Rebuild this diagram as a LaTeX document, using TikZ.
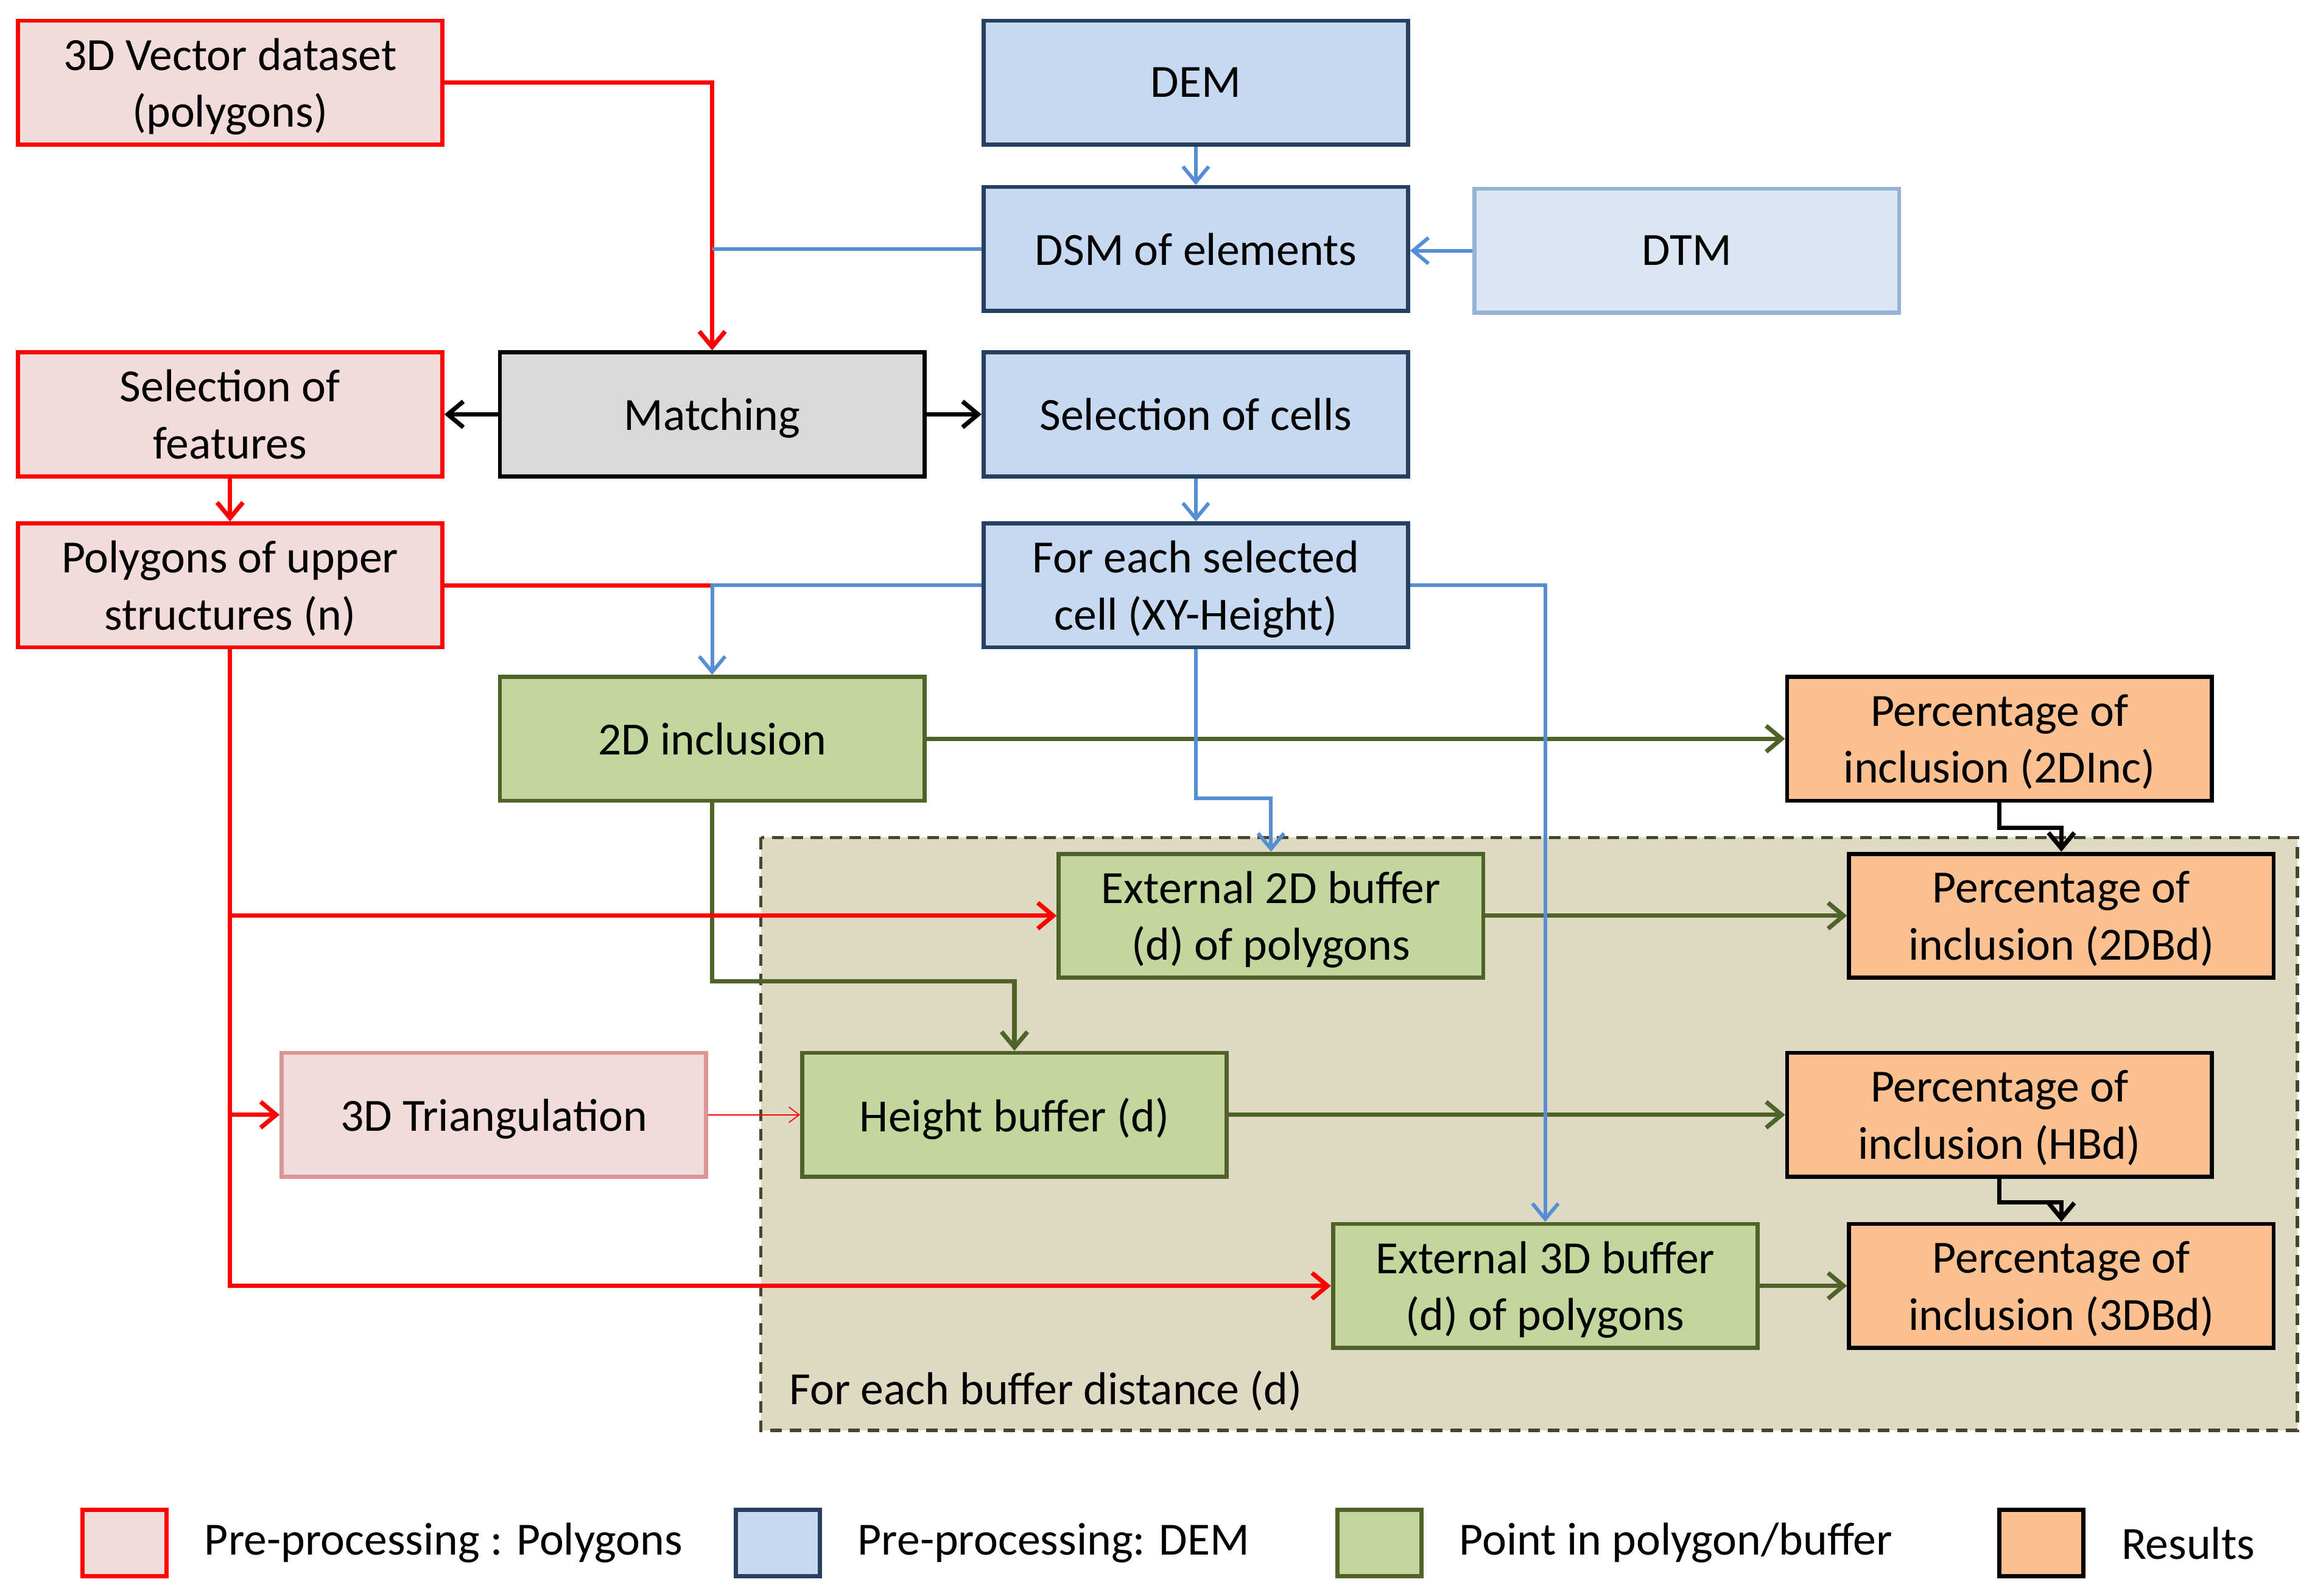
\documentclass[tikz,border=0pt]{standalone}
\usepackage{fontspec}
\setmainfont{Carlito}
\usepackage{tikz}
\usetikzlibrary{arrows.meta}
\usetikzlibrary{positioning}
\definecolor{polyred}{HTML}{FF0000}
\definecolor{polyfill}{HTML}{F2DCDB}
\definecolor{trifill}{HTML}{F2DCDB}
\definecolor{triline}{HTML}{D99694}
\definecolor{demline}{HTML}{254061}
\definecolor{demfill}{HTML}{C6D9F1}
\definecolor{dtmline}{HTML}{95B3D7}
\definecolor{dtmfill}{HTML}{DCE6F2}
\definecolor{demarrow}{HTML}{558ED5}
\definecolor{pipline}{HTML}{4F6228}
\definecolor{pipfill}{HTML}{C3D69B}
\definecolor{resfill}{HTML}{FAC090}
\definecolor{matchfill}{HTML}{D9D9D9}
\definecolor{loopfill}{HTML}{DDD9C3}
\definecolor{loopline}{HTML}{4A452A}

\begin{document}
\begin{tikzpicture}[x=0.02cm,y=-0.02cm,
  every node/.style={font=\fontsize{17.8}{22}\selectfont},
  box/.style={draw,line width=1.6pt,minimum width=5.76cm,minimum height=1.68cm,align=center,inner sep=0pt,text depth=0pt},
  polybox/.style={box,draw=polyred,fill=polyfill},
  tribox/.style={box,draw=triline,fill=trifill},
  dembox/.style={box,draw=demline,fill=demfill},
  dtmbox/.style={box,draw=dtmline,fill=dtmfill},
  pipbox/.style={box,draw=pipline,fill=pipfill},
  resbox/.style={box,draw=black,fill=resfill},
  matchbox/.style={box,draw=black,fill=matchfill},
  keybox/.style={minimum width=1.14cm,minimum height=0.9cm},
  keytext/.style={right=0.48cm of #1,inner sep=0pt},
  link/.style={line width=1.7pt,-{Straight Barb[length=6pt,width=10pt]}},
  redlink/.style={link,polyred},
  bluelink/.style={link,demarrow,line width=1.4pt},
  greenlink/.style={link,pipline},
  blacklink/.style={link,black}
]
\useasboundingbox (0,0) rectangle (1568,1082);
\draw[fill=loopfill,draw=loopline,line width=1.3pt,dash pattern=on 4.5pt off 3pt] (516,568) rectangle (1558,970);
\node[anchor=west,inner sep=0pt] (loop) at (535,943) {For each buffer distance (d)};

\node[polybox] (vec) at (156,56) {3D Vector dataset\\(polygons)};
\node[dembox] (dem) at (811,56) {DEM};
\node[dembox,below=0.52cm of dem] (dsm) {DSM of elements};
\node[dtmbox] (dtm) at (1144,170) {DTM};
\node[polybox] (selfeat) at (156,281) {Selection of\\features};
\node[matchbox] (match) at (483,281) {Matching};
\node[dembox] (selcell) at (811,281) {Selection of cells};
\node[polybox] (poly) at (156,397) {Polygons of upper\\structures (n)};
\node[dembox] (foreach) at (811,397) {For each selected\\cell (XY-Height)};
\node[pipbox] (inc2d) at (483,501) {2D inclusion};
\node[resbox] (pct2dinc) at (1356,501) {Percentage of\\inclusion (2DInc)};
\node[pipbox] (ext2d) at (862,621) {External 2D buffer\\(d) of polygons};
\node[resbox] (pct2dbd) at (1398,621) {Percentage of\\inclusion (2DBd)};
\node[tribox] (tri3d) at (335,756) {3D Triangulation};
\node[pipbox] (hbuf) at (688,756) {Height buffer (d)};
\node[resbox] (pcthbd) at (1356,756) {Percentage of\\inclusion (HBd)};
\node[pipbox] (ext3d) at (1048,872) {External 3D buffer\\(d) of polygons};
\node[resbox] (pct3dbd) at (1398,872) {Percentage of\\inclusion (3DBd)};

\draw[greenlink] (inc2d) -- (pct2dinc);
\draw[greenlink] (inc2d.south) -- ++(0,121) -| (hbuf.north);
\draw[greenlink] (ext2d) -- (pct2dbd);
\draw[greenlink] (hbuf) -- (pcthbd);
\draw[greenlink] (ext3d) -- (pct3dbd);

\draw[redlink] (vec.east) -| (match.north);
\draw[redlink] (selfeat) -- (poly);
\draw[redlink,-] (poly.east) -- (poly.east -| inc2d.north);
\draw[redlink] (poly.south) |- (ext3d.west);
\draw[redlink] (poly.south |- ext2d.west) -- (ext2d.west);
\draw[redlink] (poly.south |- tri3d.west) -- (tri3d);
\draw[polyred,line width=0.4pt,-{Straight Barb[length=4pt,width=6pt]}] (tri3d) -- (hbuf);

\draw[bluelink] (dem) -- (dsm);
\draw[bluelink] (dtm) -- (dtm -| dsm.east);
\draw[bluelink,-] (dsm.west) -- (dsm.west -| match.north);
\draw[bluelink] (selcell) -- (foreach);
\draw[bluelink] (foreach.west) -| (inc2d.north);
\draw[bluelink] (foreach.south) -- ++(0,101) -| (ext2d.north);
\draw[bluelink] (foreach.east) -| (ext3d.north);

\draw[blacklink] (match) -- (selfeat);
\draw[blacklink] (match) -- (selcell);
\draw[blacklink] (pct2dinc.south) -- ++(0,17) -| (pct2dbd.north);
\draw[blacklink] (pcthbd.south) -- ++(0,16) -| (pct3dbd.north);

\node[polybox,keybox] (key1) at (84.5,1046.5) {};
\node[keytext=key1] {Pre-processing : Polygons};
\node[dembox,keybox] (key2) at (527.5,1046.5) {};
\node[keytext=key2] {Pre-processing: DEM};
\node[pipbox,keybox] (key3) at (935.5,1046.5) {};
\node[keytext=key3] {Point in polygon/buffer};
\node[resbox,keybox] (key4) at (1384.5,1046.5) {};
\node[keytext=key4] {Results};
\end{tikzpicture}
\end{document}
